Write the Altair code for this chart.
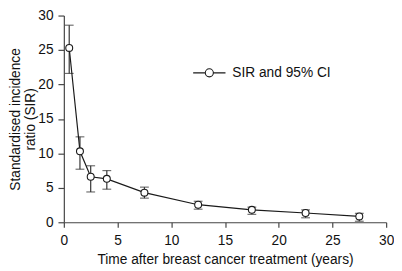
import altair as alt
import pandas as pd

years = [0.5, 1.5, 2.5, 4.0, 7.5, 12.5, 17.5, 22.5, 27.5]
sir = [25.3, 10.3, 6.6, 6.3, 4.3, 2.55, 1.8, 1.35, 0.85]
ci_low = [21.6, 7.7, 4.4, 4.8, 3.5, 1.9, 1.15, 0.65, 0.15]
ci_high = [28.6, 12.4, 8.2, 7.5, 5.1, 3.05, 2.2, 1.8, 1.3]
series = ["SIR and 95% CI"] * len(years)
ticks = [0, 5, 10, 15, 20, 25, 30]

df = pd.DataFrame({"t": years, "sir": sir, "lo": ci_low, "hi": ci_high, "s": series})

FONT = "Liberation Sans"
INK = "#1a1a1a"

xs = alt.Scale(domain=[0, 30], nice=False)
ys = alt.Scale(domain=[0, 30], nice=False)
xaxis = alt.Axis(values=ticks, title="Time after breast cancer treatment (years)",
                 tickSize=5, labelPadding=7, titlePadding=5, labelOverlap=False, labelFlush=False)
yaxis = alt.Axis(values=ticks, title=["Standardised incidence", "ratio (SIR)"],
                 tickSize=6, labelPadding=5, titlePadding=0, titleLineHeight=16,
                 labelOverlap=False, labelFlush=False)

base = alt.Chart(df)

bars = base.mark_rule(color="#333", strokeWidth=1.2).encode(
    x=alt.X("t:Q", scale=xs, axis=xaxis), y=alt.Y("lo:Q", scale=ys, axis=yaxis), y2="hi:Q")
cap_lo = base.mark_tick(color="#333", size=9, thickness=1.2, orient="horizontal").encode(
    x=alt.X("t:Q", scale=xs, axis=xaxis), y=alt.Y("lo:Q", scale=ys, axis=yaxis))
cap_hi = base.mark_tick(color="#333", size=9, thickness=1.2, orient="horizontal").encode(
    x=alt.X("t:Q", scale=xs, axis=xaxis), y=alt.Y("hi:Q", scale=ys, axis=yaxis))
line = base.mark_line(color=INK, strokeWidth=1.2).encode(
    x=alt.X("t:Q", scale=xs, axis=xaxis), y=alt.Y("sir:Q", scale=ys, axis=yaxis))
pts = base.mark_point(shape="circle", filled=False, fill="white", fillOpacity=1, size=50,
                      strokeWidth=1.1).encode(
    x=alt.X("t:Q", scale=xs, axis=xaxis), y=alt.Y("sir:Q", scale=ys, axis=yaxis),
    color=alt.Color("s:N", scale=alt.Scale(range=[INK]),
                    legend=alt.Legend(title=None, orient="none", legendX=131, legendY=41,
                                      symbolType="M-1,0L-0.25,0M0.25,0L1,0M0.25,0A0.25,0.25,0,1,1,-0.25,0A0.25,0.25,0,1,1,0.25,0Z",
                                      symbolSize=1089, symbolFillColor="white", symbolStrokeColor=INK,
                                      symbolStrokeWidth=1.1, labelFontSize=14, labelFont=FONT,
                                      labelColor="#111", labelOffset=6, padding=0)))

chart = alt.layer(bars, cap_lo, cap_hi, line, pts).properties(
    width=329, height=211,
    autosize=alt.AutoSizeParams(type="none"),
    padding={"left": 57, "top": 5, "right": 8, "bottom": 46},
).configure_view(stroke=None).configure_axis(
    grid=False, labelFont=FONT, titleFont=FONT, labelFontSize=14, titleFontSize=14,
    titleFontWeight="normal", labelColor="#111", titleColor="#111",
    domainColor="#444", tickColor="#444", domainWidth=1.2, tickWidth=1.2,
)

chart.save("out.html", embed_options={"renderer": "svg", "actions": False})
